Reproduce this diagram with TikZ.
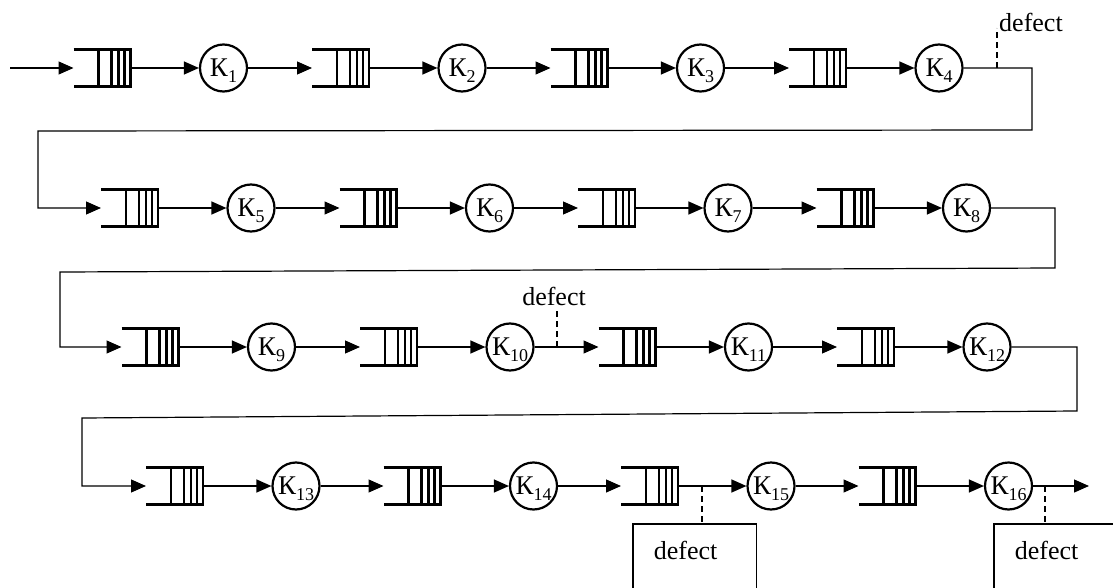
\documentclass[tikz,border=0pt]{standalone}
\usepackage{fontspec}
\setmainfont{Liberation Serif}
\usetikzlibrary{arrows.meta}
\newcommand{\ksub}[1]{К\raisebox{-6pt}[0pt][0pt]{\fontsize{18}{18}\selectfont #1}}
\begin{document}
\begin{tikzpicture}[x=1pt,y=-1pt,
  conn/.style={line width=1.2pt, -{Triangle[length=15pt,width=13pt]}},
  qbox/.style={minimum width=57pt, minimum height=37pt, inner sep=0pt, outer sep=0pt},
  qline/.style={line width=2.2pt},
  srv/.style={circle, draw, line width=2.2pt, minimum size=47pt, inner sep=0pt, font=\fontsize{27}{30}\selectfont},
  deftext/.style={font=\fontsize{26}{30}\selectfont, inner sep=0pt},
  defbox/.style={draw, line width=1.6pt, anchor=north west, inner sep=0pt, text height=36pt, text depth=60pt, font=\fontsize{26}{30}\selectfont},
  defline/.style={line width=1.5pt, dash pattern=on 6pt off 4pt}
]
\useasboundingbox (0,0) rectangle (1113,588);
\clip (0,0) rectangle (1113,588);

% queues and servers
\foreach \r/\xo/\yy/\pp in {0/73.5/68/238.5, 1/101/208/238.5, 2/121.5/347/238.5, 3/146/486/237.5} {
  \foreach \j in {0,...,3} {
    \pgfmathtruncatemacro\n{4*\r+\j+1}
    \node[qbox] (Q\n) at (\xo+\pp*\j+28.5, \yy) {};
    \node[srv] (K\n) at (\xo+\pp*\j+150, \yy) {\ksub{\n}};
  }
}

% queue drawings
\foreach \n in {1,...,16} {
  \draw[qline] (Q\n.north west) -- (Q\n.north east) -- (Q\n.south east) -- (Q\n.south west);
  \foreach \dx in {25,38,45,51}
    \draw[qline] ([xshift=\dx pt]Q\n.north west) -- ([xshift=\dx pt]Q\n.south west);
}

% coordinates
\coordinate (in) at (10,68);
\coordinate (out) at (1089,486);
\coordinate (c1a) at (1032,130);
\coordinate (c1b) at (38,131);
\coordinate (c2a) at (1055,268);
\coordinate (c2b) at (60,272);
\coordinate (c3a) at (1077,411);
\coordinate (c3b) at (82,418);
\coordinate (d1) at (997,68);
\coordinate (d1t) at (997,28);
\coordinate (d2) at (557,347);
\coordinate (d2t) at (557,309);
\coordinate (d3) at (702,486);
\coordinate (d4) at (1045,486);

% connectors
\draw[conn] (in) -- (Q1.west);
\foreach \n in {1,...,16} {
  \draw[conn] (Q\n.east) -- (K\n.west);
}
\foreach \n/\m in {1/2,2/3,3/4,5/6,6/7,7/8,9/10,10/11,11/12,13/14,14/15,15/16} {
  \draw[conn] (K\n.east) -- (Q\m.west);
}
\draw[conn] (K4.east) -| (c1a) -- (c1b) |- (Q5.west);
\draw[conn] (K8.east) -| (c2a) -- (c2b) |- (Q9.west);
\draw[conn] (K12.east) -| (c3a) -- (c3b) |- (Q13.west);
\draw[conn] (K16.east) -- (out);

% defects
\node[deftext, anchor=base west] (def1) at (999,32) {defect};
\node[deftext, anchor=base] (def2) at (554,305) {defect};
\node[defbox] (box1) at (632,523) {\hspace*{21pt}defect\hspace*{39pt}};
\node[defbox] (box2) at (993,523) {\hspace*{21pt}defect\hspace*{39pt}};
\draw[defline] (d1) -- (d1t);
\draw[defline] (d2) -- (d2t);
\draw[defline] (d3) -- (d3 |- box1.north);
\draw[defline] (d4) -- (d4 |- box2.north);
\end{tikzpicture}
\end{document}
